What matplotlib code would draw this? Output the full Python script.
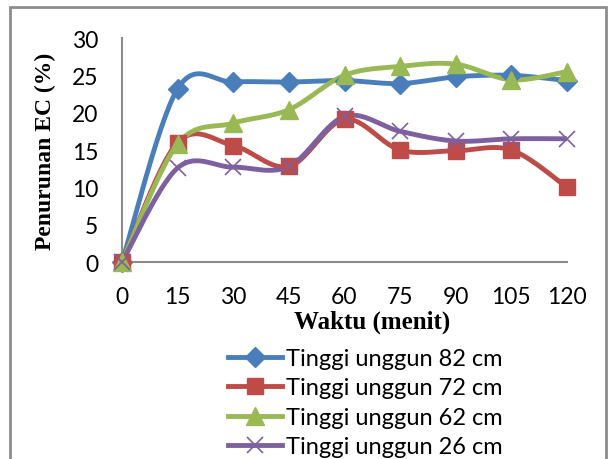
import numpy as np
import matplotlib
matplotlib.use('Agg')
import matplotlib.pyplot as plt
from matplotlib.patches import Rectangle

# Data
waktu = [0, 15, 30, 45, 60, 75, 90, 105, 120]
tinggi_82 = [0, 23.2, 24.1, 24.1, 24.3, 23.9, 24.8, 25.0, 24.3]
tinggi_72 = [0, 16.0, 15.6, 12.8, 19.1, 15.0, 14.9, 15.0, 10.0]
tinggi_62 = [0, 15.8, 18.6, 20.4, 25.0, 26.2, 26.5, 24.4, 25.5]
tinggi_26 = [0, 12.6, 12.7, 12.8, 19.5, 17.5, 16.2, 16.5, 16.5]
labels = ['Tinggi unggun 82 cm', 'Tinggi unggun 72 cm',
          'Tinggi unggun 62 cm', 'Tinggi unggun 26 cm']


def smooth(x, y, n=30):
    # Bezier smoothing like Excel's "smoothed line"
    p = np.column_stack([x, y]).astype(float)
    p = np.vstack([p[0], p, p[-1]])
    out = []
    for i in range(1, len(p) - 2):
        p0, p3 = p[i], p[i + 1]
        c1 = p0 + (p[i + 1] - p[i - 1]) / 6
        c2 = p3 - (p[i + 2] - p[i]) / 6
        t = np.linspace(0, 1, n)[:, None]
        seg = ((1 - t) ** 3 * p0 + 3 * (1 - t) ** 2 * t * c1
               + 3 * (1 - t) * t ** 2 * c2 + t ** 3 * p3)
        out.append(seg if i == 1 else seg[1:])
    out = np.vstack(out)
    return out[:, 0], out[:, 1]


fig = plt.figure(figsize=(6.08, 4.6), dpi=100)
fig.patches.append(Rectangle((10 / 608, -0.05), 596 / 608, 1 - 8 / 460 + 0.05,
                             transform=fig.transFigure, fill=False,
                             edgecolor='#8c8c8c', linewidth=2))
ax = fig.add_axes([122 / 608, 1 - 263 / 460, 445 / 608, 224 / 460])

series = [
    (tinggi_82, '#4A7EBB', 'D', 10, {}),
    (tinggi_72, '#BE4B48', 's', 12, {}),
    (tinggi_62, '#98B954', '^', 13, {}),
    (tinggi_26, '#7D60A0', 'x', 12, {'markeredgewidth': 1.2}),
]
handles = []
for (vals, col, mk, ms, kw), lab in zip(series, labels):
    xs, ys = smooth(waktu, vals)
    ax.plot(xs, ys, color=col, lw=3.5, solid_capstyle='round', zorder=2)
    ax.plot(waktu, vals, linestyle='none', marker=mk, color=col, ms=ms,
            zorder=3, clip_on=False, **kw)
    h, = ax.plot([], [], color=col, lw=3.5, marker=mk, ms=ms, **kw)
    handles.append(h)

ax.set_xlim(0, 120)
ax.set_ylim(0, 30)
ax.set_xticks(waktu)
ax.set_yticks(range(0, 31, 5))
for s in ['top', 'right']:
    ax.spines[s].set_visible(False)
for s in ['left', 'bottom']:
    ax.spines[s].set_color('#8c8c8c')
    ax.spines[s].set_linewidth(1.5)
ax.tick_params(length=0, labelsize=16.5)
ax.tick_params(axis='x', pad=17)
ax.tick_params(axis='y', pad=17)
for t in ax.get_xticklabels() + ax.get_yticklabels():
    t.set_fontfamily('Lato')

fig.text(372 / 608, 1 - 322 / 460, 'Waktu (menit)', ha='center', va='center',
         fontfamily='Liberation Serif', fontweight='bold', fontsize=18)
fig.text(45 / 608, 1 - 151 / 460, 'Penurunan EC (%)', ha='center', va='center',
         rotation=90, fontfamily='Liberation Serif', fontweight='bold', fontsize=17)

fig.legend(handles, labels, loc='upper left', bbox_to_anchor=(216 / 608, 1 - 337 / 460),
           frameon=False, prop={'family': 'Lato', 'size': 17},
           handlelength=2.3, handletextpad=0.15, labelspacing=0.36, borderpad=0)

fig.savefig('out.png', dpi=100)
